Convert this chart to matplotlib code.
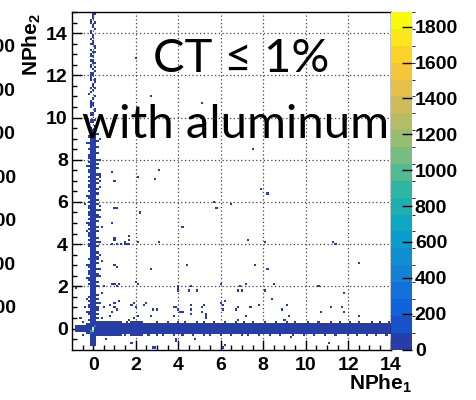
import numpy as np
import matplotlib
matplotlib.use("Agg")
import matplotlib.pyplot as plt
from matplotlib.colors import LinearSegmentedColormap, ListedColormap, BoundaryNorm

plt.rcParams['font.family'] = ['Liberation Sans', 'DejaVu Sans']
plt.rcParams['font.weight'] = 'bold'
plt.rcParams['mathtext.fontset'] = 'custom'
plt.rcParams['mathtext.bf'] = 'Liberation Sans:bold'
plt.rcParams['mathtext.rm'] = 'Liberation Sans:bold'

# ROOT kBird palette
bird_stops = [0.0, 0.125, 0.25, 0.375, 0.5, 0.625, 0.75, 0.875, 1.0]
bird_r = [0.2082, 0.0592, 0.0780, 0.0232, 0.1802, 0.5301, 0.8186, 0.9956, 0.9764]
bird_g = [0.1664, 0.3599, 0.5041, 0.6419, 0.7178, 0.7492, 0.7328, 0.7862, 0.9832]
bird_b = [0.5293, 0.8684, 0.8385, 0.7914, 0.6425, 0.4662, 0.3499, 0.1968, 0.0539]

n_levels = 20
z_max = 1882
cbar_ticks = [0, 200, 400, 600, 800, 1000, 1200, 1400, 1600, 1800]

# histogram binning (NPhe1 on x, NPhe2 on y), bins centred on multiples of 0.1
bin_w = 0.1
x_range = (-1.0, 14.0)
y_range = (-1.0, 15.0)

# dense core of the band at NPhe1 ~ 0 (bin-centre ranges, inclusive)
vband_y0 = [-0.8, 0.3, 2.0]
vband_y1 = [0.2, 1.9, 9.3]
vband_x0 = [-0.1, -0.1, -0.1]
vband_x1 = [0.1, 0.1, 0.1]
vband_counts = [40, 25, 25]

# side columns of that band (x = -0.2 and x = +0.2)
vleft_y = [0.4, 0.7, 0.8, 1.0, 1.1, 1.3, 1.5, 2.1, 2.3, 2.4, 2.6, 2.7, 2.9, 3.0,
           3.3, 3.9, 4.0, 4.2, 4.4, 4.5, 4.7, 4.9, 5.0, 5.2, 5.4, 5.5, 5.7, 5.8,
           6.0, 6.2, 6.3, 6.5, 6.7, 6.8, 7.0, 7.2, 7.4, 7.5, 7.7, 7.9, 8.1, 8.2,
           8.5, 8.8, 9.1]
vright_y = [0.5, 0.7, 0.9, 1.0, 1.2, 1.4, 1.6, 2.0, 2.2, 2.5, 2.6, 2.8, 3.1, 3.3,
            3.4, 3.6, 3.9, 4.1, 4.3, 4.6, 4.8, 5.1, 5.3, 5.4, 5.6, 5.9, 6.1, 6.4,
            6.6, 6.9, 7.1, 7.3, 7.6, 7.8, 8.0, 8.3, 8.6, 8.9, 9.2]
vleft_x = -0.2
vright_x = 0.2

# dense band at NPhe2 ~ 0 (bin-centre ranges, inclusive)
hband_x0 = [-0.8, -0.3, 0.2, 1.4, 1.8, 2.4]
hband_x1 = [-0.4, 0.1, 1.3, 1.7, 2.3, 14.0]
hband_y0 = [-0.1, -0.2, -0.3, -0.2, -0.3, -0.2]
hband_y1 = [0.1, 0.2, 0.3, 0.2, 0.3, 0.2]
hband_counts = [10, 60, 40, 30, 35, 30]

# peak around the pedestal (0, 0)
hot_x = [-0.1, -0.1, 0.0, 0.0, 0.1]
hot_y = [-0.2, -0.1, 0.0, -0.1, 0.1]
hot_counts = [300, 650, 1850, 1150, 420]

# sparse tail of the NPhe1 ~ 0 band
stripe_x = [-0.02, 0.04, -0.12, -0.02, 0.07, -0.06, 0.0, -0.12, 0.0, 0.1,
            -0.06, 0.04, -0.12, 0.0, 0.07, -0.06, 0.0, -0.12, 0.04, -0.06,
            0.1, 0.0, -0.12, 0.04, -0.06, 0.07, -0.02, -0.12, 0.04, -0.06,
            0.1, 0.0, -0.12, 0.04, -0.06, 0.07, -0.16, 0.0, -0.06, 0.1,
            -0.1, 0.12, -0.15, 0.08, -0.1, 0.13, -0.08, 0.1, -0.14, 0.06,
            -0.1, 0.12, -0.16, 0.09, 0.0]
stripe_y = [14.86, 14.75, 14.54, 14.34, 14.15, 14.09, 13.86, 13.67, 13.52, 13.39,
            13.23, 13.07, 12.88, 12.73, 12.6, 12.49, 12.29, 12.13, 12.02, 11.86,
            11.75, 11.59, 11.43, 11.3, 11.15, 11.02, 10.86, 10.7, 10.59, 10.48,
            10.36, 10.2, 10.07, 9.94, 9.79, 9.64, 9.53, 9.4, 9.28, 14.45,
            13.95, 13.3, 12.95, 12.4, 11.95, 11.65, 11.2, 10.95, 10.75, 10.4,
            10.15, 9.85, 9.7, 9.45, 14.95]
stripe2_x = [0.0, -0.1, 0.1, 0.0, -0.1, 0.0, 0.1, -0.1, 0.0, 0.0,
             -0.2, 0.1, 0.0, -0.1, 0.0, 0.1, 0.0, -0.1, 0.0, 0.1,
             -0.1, 0.0, 0.0, -0.1, 0.1, 0.0, -0.1, 0.0, 0.1, -0.1]
stripe2_y = [9.35, 9.5, 9.6, 9.75, 9.9, 10.05, 10.3, 10.55, 10.65, 10.9,
             11.1, 11.35, 11.5, 11.8, 12.05, 12.2, 12.55, 12.65, 12.85, 13.1,
             13.45, 13.6, 13.8, 14.0, 14.2, 14.4, 14.6, 14.7, 14.9, 12.35]

# ragged edges of the two bands
vedge_x = [-0.3, 0.3, -0.3, 0.3, -0.3, 0.3, -0.3, 0.3, 0.3, -0.3,
           0.3, -0.3, 0.3, -0.3, 0.3, 0.4, -0.35, 0.3, -0.3, 0.3]
vedge_y = [0.8, 1.2, 2.4, 2.8, 3.0, 4.1, 4.6, 5.3, 5.6, 6.3,
           6.7, 7.7, 8.0, 8.8, 9.0, 0.5, 5.0, 3.5, 1.4, 7.2]
hedge_up_x = [0.35, 0.55, 0.7, 0.9, 1.3, 1.55, 2.05, 2.35, 3.05, 3.45, 3.95,
              4.35, 4.9, 5.25, 5.75, 6.15, 6.65, 7.05, 7.45, 8.05, 8.55, 9.05,
              9.45, 10.05, 10.55, 11.15, 11.55, 12.05, 12.45, 13.05, 13.45, 13.85]
hedge_lo_x = [0.45, 0.65, 0.85, 1.15, 1.45, 2.15, 2.55, 2.95, 3.35, 3.85, 4.25,
              4.65, 5.15, 5.55, 6.05, 6.45, 6.95, 7.35, 7.85, 8.25, 8.75, 9.35,
              9.85, 10.35, 10.85, 11.35, 11.95, 12.35, 12.85, 13.25, 13.75]
hedge_up_y = 0.3
hedge_lo_y = -0.3

# isolated entries
scatter_x = [2.05, 2.92, 3.14, 2.17, 1.73, 1.48, 1.70, 2.05, 3.08, 4.24,
             5.70, 5.79, 6.55, 7.50, 7.93, 8.19, 7.28, 8.13, 4.40, 2.73,
             7.60, 8.24, 11.27, 11.35, 12.51, 1.95, 2.11, 4.00, 3.97, 4.60,
             4.45, 4.93, 5.95, 6.86, 6.84, 6.97, 7.17, 8.46, 8.13, 8.41,
             10.64, 11.82, 1.83, 1.95, 2.05, 1.89, 1.73, 2.42, 2.80, 3.02,
             2.73, 3.77, 3.88, 4.00, 4.12, 4.24, 3.77, 4.56, 4.62, 5.10,
             5.15, 5.10, 5.26, 5.31, 6.01, 6.09, 6.11, 6.70, 6.81, 6.80,
             7.17, 7.38, 7.79, 8.85, 9.10, 9.15, 9.15, 8.99, 10.71, 11.18,
             11.72, 11.82, 12.52, 1.83, 2.85, 3.86, 4.84, 6.17, 6.06, 9.31,
             11.08, 0.48, 0.92, 1.18, 0.79, 1.03, 0.95, 0.87, 0.76, 1.10,
             1.18, -0.43, -0.78, -0.47, 1.89, 2.52, 1.81, 2.91, 4.00, 3.93,
             4.56, 4.79, 5.97, 6.20, 5.34, 0.95, 0.95, 1.10, 0.92, 1.03,
             0.87, 1.10, 1.34, 1.58, 1.03, 0.95, 1.06, -0.39, -0.78, -0.39,
             0.48, 0.32, 0.29, 0.40, 0.29, 0.92, 0.35, 2.00, 2.67, 5.11,
             0.37, 1.04, 1.04, 1.45, 1.74, 1.15, 0.40, -0.62, -0.55, 0.55]
scatter_y = [7.23, 7.15, 7.48, 5.46, 4.38, 3.97, 3.97, 4.13, 4.07, 4.81,
             5.98, 5.73, 5.93, 8.46, 6.56, 6.36, 4.18, 4.12, 2.95, 2.81,
             2.95, 2.85, 4.12, 4.00, 3.10, 2.17, 2.08, 1.98, 1.82, 2.00,
             1.82, 1.82, 2.05, 1.98, 1.82, 1.76, 2.09, 2.14, 1.78, 1.40,
             1.98, 1.71, 1.15, 1.03, 0.65, 0.51, 0.37, 1.15, 0.92, 0.92,
             0.56, 0.99, 1.03, 0.92, 0.81, 0.81, 0.56, 1.08, 0.86, 1.03,
             1.13, 0.84, 0.65, 0.45, 1.16, 1.11, 0.86, 0.86, 0.97, 0.39,
             0.65, 1.03, 1.08, 0.91, 1.13, 0.65, 0.56, 0.39, 0.75, 0.97,
             0.97, 0.75, 0.65, -0.72, -0.89, -0.62, -0.52, -0.77, -0.89, -0.36,
             -0.73, 1.98, 2.06, 2.11, 1.11, 1.19, 0.96, 0.80, 0.64, 0.88,
             1.27, 0.96, 0.12, 0.25, 1.19, 1.19, -0.70, -0.89, 1.90, -0.55,
             0.72, -0.50, 2.06, 1.35, 0.72, 7.04, 5.73, 5.73, 4.98, 4.35,
             4.04, 3.96, 3.96, 3.96, 3.00, 2.06, 1.98, 5.93, 1.90, 0.96,
             0.96, 5.85, 6.96, 3.17, 2.54, 7.43, 7.27, 12.80, 10.99, 10.70,
             4.83, 4.32, 4.23, 4.10, 4.20, 2.92, 1.70, 0.45, -0.35, -0.45]

# neighbouring panel's palette labels, cut by the left border
cut_labels = ['14000', '12000', '10000', '8000', '6000', '4000', '2000']

nx = int(round((x_range[1] - x_range[0]) / bin_w))
ny = int(round((y_range[1] - y_range[0]) / bin_w))
x_edges = x_range[0] - bin_w / 2 + bin_w * np.arange(nx + 2)
y_edges = y_range[0] - bin_w / 2 + bin_w * np.arange(ny + 2)
xc = 0.5 * (x_edges[:-1] + x_edges[1:])
yc = 0.5 * (y_edges[:-1] + y_edges[1:])
XC, YC = np.meshgrid(xc, yc)
eps = 1e-6

counts = np.zeros_like(XC)
for x0, x1, y0, y1, c in zip(vband_x0 + hband_x0, vband_x1 + hband_x1,
                             vband_y0 + hband_y0, vband_y1 + hband_y1,
                             vband_counts + hband_counts):
    m = (XC > x0 - eps) & (XC < x1 + eps) & (YC > y0 - eps) & (YC < y1 + eps)
    counts[m] = np.maximum(counts[m], c)

pts_x = (stripe_x + stripe2_x + vedge_x + hedge_up_x + hedge_lo_x + scatter_x
         + [vleft_x] * len(vleft_y) + [vright_x] * len(vright_y))
pts_y = (stripe_y + stripe2_y + vedge_y + [hedge_up_y] * len(hedge_up_x)
         + [hedge_lo_y] * len(hedge_lo_x) + scatter_y + vleft_y + vright_y)
h, _, _ = np.histogram2d(pts_y, pts_x, bins=[y_edges, x_edges])
counts += h
h_hot, _, _ = np.histogram2d(hot_y, hot_x, bins=[y_edges, x_edges], weights=hot_counts)
counts = np.where(h_hot > 0, h_hot, counts)

# palette: 20 contour levels, each taking the colour near its upper end
bird = LinearSegmentedColormap.from_list(
    'bird', [(s, (r, g, b)) for s, r, g, b in zip(bird_stops, bird_r, bird_g, bird_b)])
level_cols = [bird((i + 0.99) / n_levels) for i in range(n_levels)]
cmap = ListedColormap(level_cols)
norm = BoundaryNorm(np.linspace(0, z_max, n_levels + 1), n_levels)

fig = plt.figure(figsize=(4.77, 4.0), dpi=100)
ax = fig.add_axes([72 / 477, 1 - 349.6 / 400, 318.7 / 477, 337.6 / 400])
cax = fig.add_axes([390.7 / 477, 1 - 349.6 / 400, 21.3 / 477, 337.6 / 400])

mesh = ax.pcolormesh(x_edges, y_edges, np.ma.masked_equal(counts, 0),
                     cmap=cmap, norm=norm, antialiased=False, linewidth=0)

ax.set_xlim(*x_range)
ax.set_ylim(*y_range)
ax.set_xticks(np.arange(0, 15, 2))
ax.set_yticks(np.arange(0, 15, 2))
ax.set_xticks(np.arange(-0.5, 14.01, 0.5), minor=True)
ax.set_yticks(np.arange(-0.5, 15.01, 0.5), minor=True)
ax.tick_params(which='major', direction='in', length=7, width=1, labelsize=14)
ax.tick_params(which='minor', direction='in', length=3.5, width=1)
ax.tick_params(axis='x', pad=5)
ax.tick_params(axis='y', pad=3)
ax.grid(True, which='major', color='0.25', linestyle=(0, (1, 2)), linewidth=0.9)
ax.set_axisbelow(True)
for s in ax.spines.values():
    s.set_linewidth(1.0)

cb = fig.colorbar(mesh, cax=cax, ticks=cbar_ticks)
cb.outline.set_visible(False)
cax.tick_params(direction='in', length=7, width=1, labelsize=14, pad=2)

fig.text(412 / 477, 1 - 390 / 400, r'$\mathbf{NPhe_1}$', ha='right', va='baseline', fontsize=15)
fig.text(32 / 477, 1 - 13 / 400, r'$\mathbf{NPhe_2}$', ha='center', va='top', rotation=90, fontsize=15)

for i, lab in enumerate(cut_labels):
    fig.text(16 / 477, 1 - (48 + 43.4 * i) / 400, lab, ha='right', va='center', fontsize=14)

fig.text(241.5 / 477, 1 - 71.7 / 400, 'CT ≤ 1%', ha='center', va='baseline',
         fontsize=34, fontweight='normal', family=['Lato', 'DejaVu Sans'])
fig.text(236 / 477, 1 - 138 / 400, 'with aluminum', ha='center', va='baseline',
         fontsize=34, fontweight='normal', family=['Lato', 'DejaVu Sans'])

fig.savefig('out.png', dpi=100)
